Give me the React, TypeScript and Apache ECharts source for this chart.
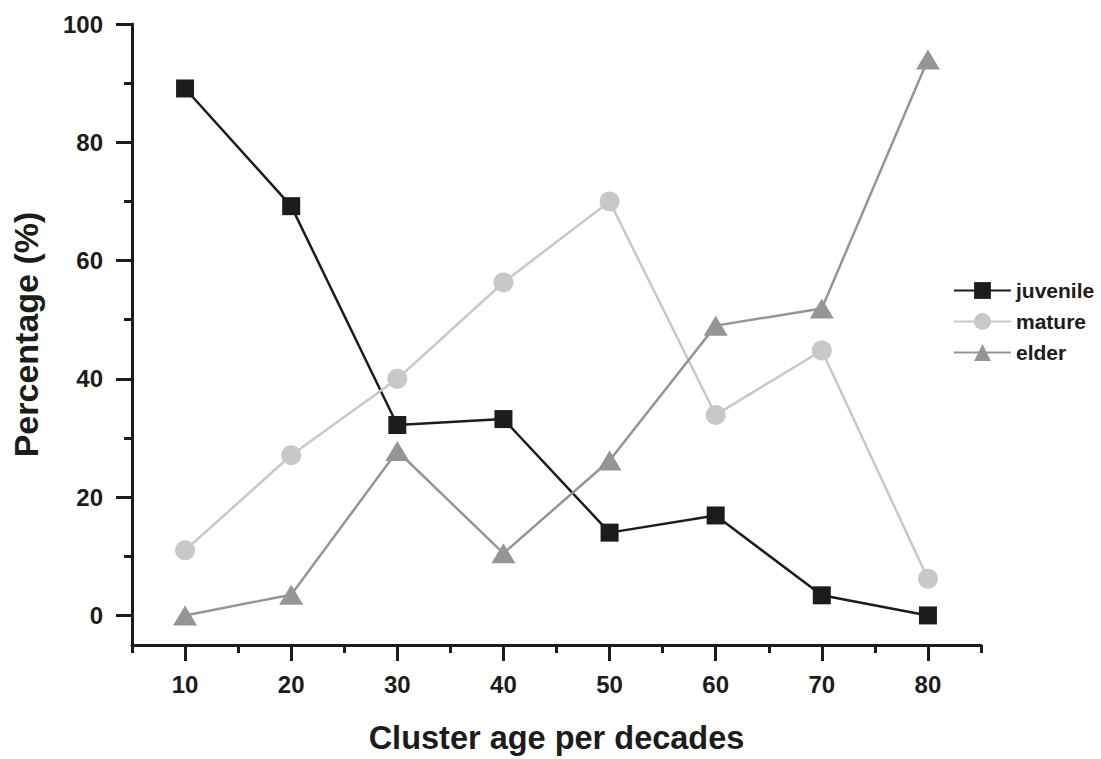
import React, { useEffect, useRef } from "react";
import * as echarts from "echarts";

const ages = [10, 20, 30, 40, 50, 60, 70, 80];
const juvenile = [89.1, 69.2, 32.2, 33.2, 14.0, 16.9, 3.4, 0];
const mature = [11.0, 27.1, 40.0, 56.3, 70.0, 33.9, 44.8, 6.2];
const elder = [0, 3.5, 27.8, 10.5, 26.2, 49.0, 51.9, 94.0];
const xMajorTicks = [10, 20, 30, 40, 50, 60, 70, 80];
const xMinorTicks = [5, 15, 25, 35, 45, 55, 65, 75, 85];
const yMajorTicks = [0, 20, 40, 60, 80, 100];
const yMinorTicks = [10, 30, 50, 70, 90];

const FONT = "'Liberation Sans', Arial, Helvetica, sans-serif";
const INK = "#1c1c1c";

export default function App() {
  const ref = useRef<HTMLDivElement>(null);
  useEffect(() => {
    document.body.style.margin = "0";
    if (!ref.current) return;
    const chart = echarts.init(ref.current, null, { renderer: "svg" });
    const axisLine = { show: true, onZero: false, lineStyle: { color: INK, width: 3 } };
    const toPairs = (vals: number[]) => ages.map((a, i) => [a, vals[i]]);
    chart.setOption({
      animation: false,
      backgroundColor: "#ffffff",
      grid: { left: 132, right: 120, top: 24, bottom: 110, containLabel: false },
      legend: {
        orient: "vertical",
        left: 948,
        top: 275,
        itemWidth: 57,
        itemHeight: 21,
        itemGap: 10,
        textStyle: { fontSize: 21, fontWeight: "bold", color: INK, fontFamily: FONT },
        data: ["juvenile", "mature", "elder"],
      },
      xAxis: [
        {
          type: "value",
          min: 5,
          max: 85,
          position: "bottom",
          axisLine,
          splitLine: { show: false },
          axisTick: { show: true, customValues: xMajorTicks, length: 16, lineStyle: { color: INK, width: 3 } },
          axisLabel: {
            customValues: xMajorTicks,
            margin: 27,
            fontSize: 24,
            fontWeight: "bold",
            color: INK,
            fontFamily: FONT,
          },
          name: "Cluster age per decades",
          nameLocation: "middle",
          nameGap: 76,
          nameTextStyle: { fontSize: 32.5, fontWeight: "bold", color: INK, fontFamily: FONT },
        },
        {
          type: "value",
          min: 5,
          max: 85,
          position: "bottom",
          axisLine: { show: false, onZero: false },
          splitLine: { show: false },
          axisTick: { show: true, customValues: xMinorTicks, length: 8, lineStyle: { color: INK, width: 3 } },
          axisLabel: { show: false, customValues: xMinorTicks },
        },
      ],
      yAxis: [
        {
          type: "value",
          min: -5,
          max: 100,
          position: "left",
          axisLine,
          splitLine: { show: false },
          axisTick: { show: true, customValues: yMajorTicks, length: 16, lineStyle: { color: INK, width: 3 } },
          axisLabel: {
            customValues: yMajorTicks,
            margin: 29,
            fontSize: 24,
            fontWeight: "bold",
            color: INK,
            fontFamily: FONT,
          },
          name: "Percentage (%)",
          nameLocation: "middle",
          nameRotate: 90,
          nameGap: 89,
          nameTextStyle: { fontSize: 34, fontWeight: "bold", color: INK, fontFamily: FONT },
        },
        {
          type: "value",
          min: -5,
          max: 100,
          position: "left",
          axisLine: { show: false, onZero: false },
          splitLine: { show: false },
          axisTick: { show: true, customValues: yMinorTicks, length: 8, lineStyle: { color: INK, width: 3 } },
          axisLabel: { show: false, customValues: yMinorTicks },
        },
      ],
      series: [
        {
          name: "juvenile",
          type: "line",
          xAxisIndex: 0,
          yAxisIndex: 0,
          data: toPairs(juvenile),
          symbol: "rect",
          symbolSize: 18,
          lineStyle: { color: INK, width: 2.5 },
          itemStyle: { color: INK },
        },
        {
          name: "mature",
          type: "line",
          xAxisIndex: 0,
          yAxisIndex: 0,
          data: toPairs(mature),
          symbol: "circle",
          symbolSize: 20,
          lineStyle: { color: "#c8c8c8", width: 2.5 },
          itemStyle: { color: "#c8c8c8" },
        },
        {
          name: "elder",
          type: "line",
          xAxisIndex: 0,
          yAxisIndex: 0,
          data: toPairs(elder),
          symbol: "triangle",
          symbolSize: [24, 20],
          lineStyle: { color: "#959595", width: 2.5 },
          itemStyle: { color: "#959595" },
        },
      ],
    });
    return () => chart.dispose();
  }, []);
  return <div ref={ref} style={{ width: 1101, height: 759 }} />;
}
